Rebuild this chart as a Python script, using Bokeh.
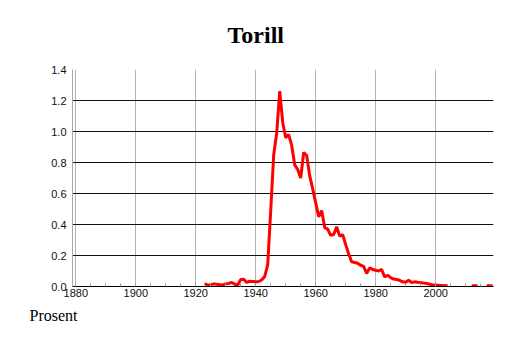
import math
from bokeh.plotting import figure
from bokeh.models import SingleIntervalTicker, FixedTicker, Title, Range1d, ColumnDataSource, CustomJSTickFormatter
from bokeh.embed import file_html
from bokeh.resources import INLINE

NaN = float("nan")

title_text = "Torill"
ylabel_text = "Prosent"

years = list(range(1923, 2020))
values = [
    0.020, 0.008, 0.012, 0.017, 0.014, 0.012, 0.010, 0.017, 0.020, 0.026,   # 1923-1932
    0.015, 0.010, 0.045, 0.047, 0.026, 0.034, 0.032, 0.030, 0.032, 0.042,   # 1933-1942
    0.065, 0.140, 0.490, 0.850, 0.990, 1.260, 1.060, 0.960, 0.980, 0.910,   # 1943-1952
    0.785, 0.755, 0.700, 0.865, 0.845, 0.715, 0.630, 0.540, 0.450, 0.490,   # 1953-1962
    0.380, 0.370, 0.330, 0.335, 0.385, 0.325, 0.335, 0.270, 0.210, 0.160,   # 1963-1972
    0.155, 0.150, 0.137, 0.130, 0.084, 0.120, 0.110, 0.105, 0.100, 0.110,   # 1973-1982
    0.062, 0.073, 0.057, 0.048, 0.045, 0.040, 0.030, 0.027, 0.040, 0.026,   # 1983-1992
    0.030, 0.027, 0.025, 0.022, 0.020, 0.015, 0.010, 0.010, 0.008, 0.007,   # 1993-2002
    0.005, 0.006, NaN, NaN, NaN, NaN, NaN, NaN, NaN, 0.005,                 # 2003-2012
    0.005, 0.005, NaN, NaN, 0.005, 0.005, 0.005,                            # 2013-2019
]

y_ticks = [0.0, 0.2, 0.4, 0.6, 0.8, 1.0, 1.2, 1.4]

W, H = 514, 343
LEFT, RIGHT, TOP, BOTTOM = 72, 21, 69, 57
X0, X1 = 1878.9, 2019.3
Y0, Y1 = 0.0, 1.4

p = figure(width=W, height=H, output_backend="svg", toolbar_location=None,
           x_range=Range1d(X0, X1), y_range=Range1d(Y0, Y1),
           min_border_left=LEFT, min_border_right=RIGHT,
           min_border_top=TOP, min_border_bottom=BOTTOM)
p.outline_line_color = None
p.background_fill_color = "white"
p.border_fill_color = "white"

src = ColumnDataSource(dict(x=years, y=values))
p.line("x", "y", source=src, line_color="#ff0000", line_width=3)

# x axis
p.xaxis.ticker = SingleIntervalTicker(interval=20, num_minor_ticks=4)
p.xaxis.major_tick_in = 0
p.xaxis.major_tick_out = 0
p.xaxis.minor_tick_in = 3
p.xaxis.minor_tick_out = 0
p.xaxis.minor_tick_line_color = "#999999"
p.xaxis.axis_line_color = "#000000"
p.xaxis.major_label_standoff = 2
p.xaxis.major_label_text_font = "Liberation Sans"
p.xaxis.major_label_text_font_size = "11px"
p.xaxis.major_label_text_color = "#111111"

# y axis
p.yaxis.ticker = FixedTicker(ticks=y_ticks)
p.yaxis.formatter = CustomJSTickFormatter(code="return tick.toFixed(1);")
p.yaxis.major_tick_in = 0
p.yaxis.major_tick_out = 0
p.yaxis.minor_tick_line_color = None
p.yaxis.axis_line_color = "#aaaaaa"
p.yaxis.major_label_standoff = 6
p.yaxis.major_label_text_font = "Liberation Sans"
p.yaxis.major_label_text_font_size = "11px"
p.yaxis.major_label_text_color = "#111111"

# grids
p.xgrid.grid_line_color = "#b4b4b4"
p.xgrid.grid_line_width = 1
p.ygrid.grid_line_color = "#111111"
p.ygrid.grid_line_width = 1

p.add_layout(Title(text=title_text, align="left", offset=155, standoff=39,
                   vertical_align="top",
                   text_font="Liberation Serif", text_font_style="bold",
                   text_font_size="24px", text_color="#000000"), "above")
p.add_layout(Title(text=ylabel_text, align="left", offset=-43, standoff=10,
                   text_font="Liberation Serif", text_font_style="normal",
                   text_font_size="16px", text_color="#000000"), "below")

open("out.html", "w").write(file_html(p, INLINE))
